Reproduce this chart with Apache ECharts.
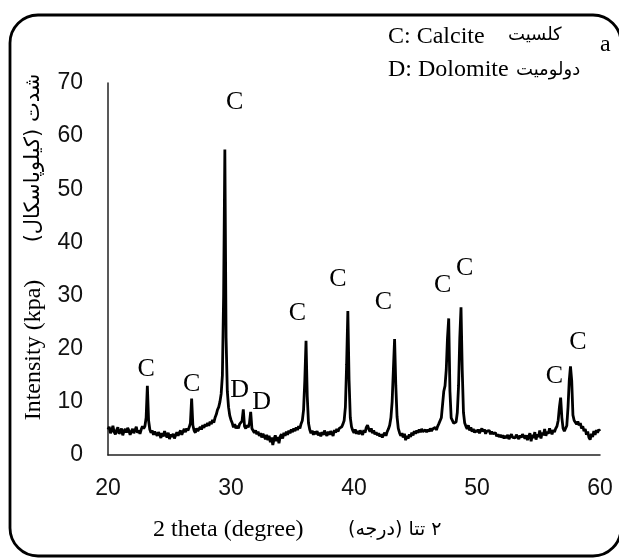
<!DOCTYPE html>
<html>
<head>
<meta charset="utf-8">
<script src="https://cdn.jsdelivr.net/npm/echarts@6/dist/echarts.min.js"></script>
<style>
  html, body { margin: 0; padding: 0; background: #fff; }
  #chart { width: 619px; height: 560px; }
</style>
</head>
<body>
<div id="chart"></div>
<script>
// sampling grid of the scan (degrees 2-theta)
const thetaStart = 20;
const thetaStep = 0.1;

// intensity (kpa), one row per degree, 10 samples each
const scan20to30 = [
  4.8, 5.3, 4.1, 4.6, 5.5, 4.3, 3.9, 4.7, 5.2, 4.0,
  4.4, 5.0, 3.7, 4.5, 4.9, 4.2, 5.1, 4.6, 3.8, 4.4,
  4.9, 4.1, 4.7, 5.3, 4.2, 4.6, 4.0, 4.8, 5.4, 5.0,
  5.4, 7.0, 13.0, 6.5, 4.8, 4.2, 4.6, 3.8, 4.4, 4.0,
  3.6, 4.3, 3.9, 3.2, 4.1, 3.5, 4.5, 3.8, 3.3, 4.2,
  3.0, 3.9, 3.4, 4.0, 3.1, 3.7, 4.3, 3.6, 4.2, 4.6,
  3.8, 4.4, 4.9, 4.3, 5.0, 4.6, 5.2, 6.0, 10.6, 5.6,
  4.6, 4.2, 5.0, 4.5, 4.9, 5.3, 4.8, 5.6, 5.1, 5.8,
  5.4, 6.0, 5.5, 6.3, 5.8, 6.6, 6.1, 7.0, 7.6, 8.5,
  9.0, 10.0, 11.5, 15.0, 30.0, 57.5, 22.0, 12.0, 9.0, 7.4
];
const scan30to40 = [
  6.6, 6.0, 5.2, 5.8, 5.0, 5.5, 5.0, 5.8, 5.6, 6.4,
  8.6, 5.4, 5.0, 5.6, 5.2, 6.0, 8.1, 5.0, 5.0, 4.2,
  4.6, 3.9, 4.4, 3.6, 4.1, 3.3, 4.0, 3.5, 3.0, 3.8,
  2.8, 3.6, 2.4, 3.3, 1.9, 3.0, 3.7, 2.6, 3.4, 2.2,
  3.5, 3.9, 3.1, 4.2, 3.6, 4.4, 3.8, 4.6, 4.1, 4.8,
  4.3, 5.0, 4.5, 5.2, 4.7, 5.4, 5.0, 5.9, 6.5, 8.5,
  14.0, 21.5, 11.0, 6.0, 4.8, 4.1, 4.6, 3.8, 4.4, 3.9,
  4.5, 3.7, 4.2, 3.5, 4.3, 3.8, 4.6, 4.0, 3.6, 4.4,
  3.8, 4.5, 4.1, 3.6, 4.7, 4.2, 4.9, 4.4, 5.0, 5.3,
  5.3, 5.8, 6.5, 9.0, 17.0, 27.1, 14.0, 7.0, 5.3, 4.6
];
const scan40to50 = [
  4.2, 4.8, 4.0, 4.5, 3.9, 4.6, 4.3, 3.8, 4.7, 4.2,
  5.2, 5.6, 4.9, 4.4, 5.0, 4.1, 4.6, 3.9, 4.3, 3.7,
  4.1, 3.5, 3.9, 3.3, 3.8, 4.2, 3.6, 4.4, 4.9, 5.6,
  7.0, 10.0, 16.0, 21.8, 13.0, 7.2, 5.0, 4.2, 3.6, 4.1,
  3.3, 4.0, 2.8, 3.6, 3.1, 3.9, 3.4, 4.2, 3.7, 4.5,
  4.0, 4.6, 4.2, 4.8, 4.3, 4.9, 4.4, 4.1, 4.7, 4.3,
  4.8, 4.4, 5.0, 4.5, 4.9, 4.6, 5.2, 4.7, 5.4, 5.9,
  6.0, 7.0, 9.5, 12.0, 13.0, 16.0, 22.0, 25.7, 12.0, 7.0,
  6.8, 6.0, 5.8, 6.2, 8.0, 13.0, 22.0, 27.8, 16.0, 8.0,
  6.0, 5.4, 4.9, 5.6, 4.6, 5.2, 4.4, 4.9, 4.2, 4.7
];
const scan50to60 = [
  4.3, 4.8, 4.1, 4.6, 5.0, 4.4, 4.8, 4.0, 4.5, 4.2,
  4.6, 3.9, 4.4, 4.0, 3.7, 4.2, 3.5, 3.9, 3.4, 3.8,
  3.3, 3.7, 3.1, 3.6, 3.2, 3.8, 3.0, 3.5, 3.9, 3.3,
  3.6, 3.2, 3.8, 3.4, 3.0, 3.7, 3.3, 3.9, 3.5, 3.1,
  3.7, 2.8, 3.5, 4.1, 2.6, 3.8, 3.2, 4.3, 2.9, 3.9,
  3.4, 4.6, 3.1, 4.2, 3.7, 4.9, 3.6, 4.4, 4.0, 5.0,
  4.4, 3.9, 4.7, 4.3, 5.0, 5.4, 6.5, 9.0, 10.8, 7.0,
  5.0, 4.5, 4.3, 5.5, 9.0, 14.0, 16.7, 14.0, 7.5, 6.5,
  6.5, 5.8, 6.3, 5.6, 6.0, 5.0, 5.4, 4.5, 4.9, 3.8,
  4.4, 3.3, 2.9, 4.0, 3.4, 4.5, 3.8, 4.7, 4.2, 4.8,
  4.5
];

// peak labels: [2-theta, height of the letter, letter]
const calciteLabels = [
  [23.1, 16.2, 'C'], [26.8, 13.4, 'C'], [30.3, 66.4, 'C'], [35.4, 26.7, 'C'],
  [38.7, 33.0, 'C'], [42.4, 28.8, 'C'], [47.2, 32.0, 'C'], [49.0, 35.2, 'C'],
  [56.3, 14.9, 'C'], [58.2, 21.3, 'C']
];
const dolomiteLabels = [[30.7, 12.2, 'D'], [32.5, 10.0, 'D']];

const xTicks = { min: 20, max: 60, interval: 10 };
const yTicks = { min: 0, max: 70, interval: 10 };

const intensity = scan20to30.concat(scan30to40, scan40to50, scan50to60);
const pattern = intensity.map((v, i) => [+(thetaStart + i * thetaStep).toFixed(1), v]);

const serif = '"Liberation Serif", "Times New Roman", "DejaVu Serif", serif';
const persian = '"DejaVu Sans", "Noto Sans", sans-serif';

const chart = echarts.init(document.getElementById('chart'));
chart.setOption({
  animation: false,
  backgroundColor: '#fff',
  grid: { left: 108, right: 19, top: 83, bottom: 105 },
  xAxis: {
    type: 'value',
    min: xTicks.min, max: xTicks.max, interval: xTicks.interval,
    splitLine: { show: false },
    axisTick: { show: false },
    axisLine: { lineStyle: { color: '#222', width: 1.5 } },
    axisLabel: {
      color: '#111', fontSize: 23, margin: 22,
      fontFamily: '"Liberation Sans", Arial, sans-serif'
    }
  },
  yAxis: {
    type: 'value',
    min: yTicks.min, max: yTicks.max, interval: yTicks.interval,
    splitLine: { show: false },
    axisTick: { show: false },
    axisLine: { show: true, lineStyle: { color: '#222', width: 1.5 } },
    axisLabel: {
      color: '#111', fontSize: 23, margin: 25,
      fontFamily: '"Liberation Sans", Arial, sans-serif'
    }
  },
  series: [
    {
      type: 'line',
      data: pattern,
      symbol: 'none',
      lineStyle: { color: '#000', width: 2.8 },
      z: 3
    },
    {
      type: 'scatter',
      data: calciteLabels.concat(dolomiteLabels),
      symbolSize: 1,
      itemStyle: { color: 'rgba(0,0,0,0)', opacity: 1 },
      label: {
        show: true, position: 'inside', opacity: 1,
        formatter: p => p.value[2],
        color: '#000', fontSize: 26, fontFamily: serif
      },
      emphasis: { disabled: true },
      z: 4
    }
  ],
  graphic: [
    {
      type: 'rect',
      shape: { x: 10, y: 15, width: 611, height: 541, r: 28 },
      style: { fill: 'none', stroke: '#000', lineWidth: 2.8 },
      silent: true
    },
    { type: 'text', x: 388, y: 37, style: { text: 'C: Calcite', font: '24px ' + serif, fill: '#000', textVerticalAlign: 'middle' } },
    { type: 'text', x: 508, y: 35, style: { text: 'كلسيت', font: '18px ' + persian, fill: '#000', textVerticalAlign: 'middle' } },
    { type: 'text', x: 600, y: 45, style: { text: 'a', font: '24px ' + serif, fill: '#000', textVerticalAlign: 'middle' } },
    { type: 'text', x: 388, y: 70, style: { text: 'D: Dolomite', font: '24px ' + serif, fill: '#000', textVerticalAlign: 'middle' } },
    { type: 'text', x: 516, y: 70, style: { text: 'دولوميت', font: '18px ' + persian, fill: '#000', textVerticalAlign: 'middle' } },
    {
      type: 'text', x: 34, y: 350, rotation: Math.PI / 2,
      style: { text: 'Intensity (kpa)', font: '24px ' + serif, fill: '#000', textAlign: 'center', textVerticalAlign: 'middle' }
    },
    {
      type: 'text', x: 34, y: 158, rotation: Math.PI / 2,
      style: { text: '\u202Bشدت (کیلوپاسکال)\u202C', font: '21px ' + persian, fill: '#000', textAlign: 'center', textVerticalAlign: 'middle' }
    },
    { type: 'text', x: 153, y: 530, style: { text: '2 theta (degree)', font: '24px ' + serif, fill: '#000', textVerticalAlign: 'middle' } },
    { type: 'text', x: 348, y: 530, style: { text: '\u202B۲ تتا (درجه)\u202C', font: '19px ' + persian, fill: '#000', textVerticalAlign: 'middle' } }
  ]
});
</script>
</body>
</html>
